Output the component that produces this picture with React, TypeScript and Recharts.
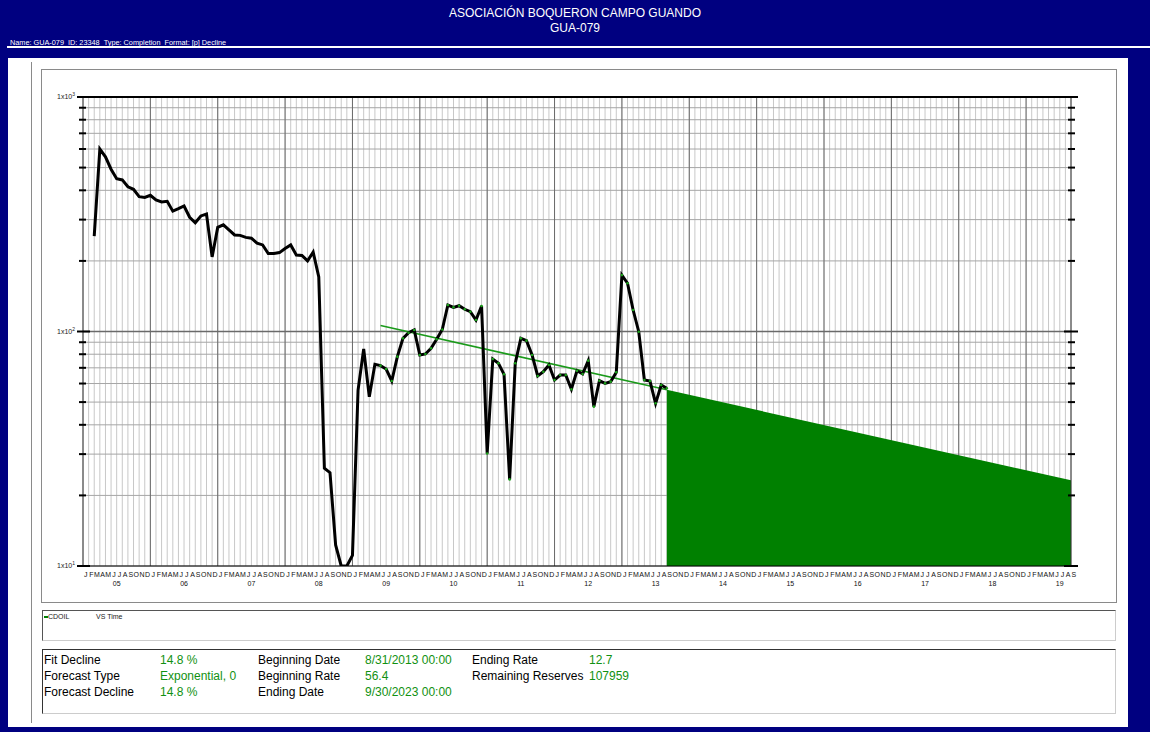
import React from "react";
import {
  ComposedChart,
  Line,
  Area,
  XAxis,
  YAxis,
  CartesianGrid,
} from "recharts";

// x values are month-end indices counted from Jan 1, 2005 (Aug 31 2013 = 104)
const MONTH_LETTERS = ["J", "F", "M", "A", "M", "J", "J", "A", "S", "O", "N", "D"];
const YEAR_LABELS = ["05", "06", "07", "08", "09", "10", "11", "12", "13", "14", "15", "16", "17", "18", "19"];
const X_END = 176;

const CDOIL_FIRST_MONTH = 2;
const CDOIL = [
  255, 600, 556, 492, 448, 443, 414, 404, 376, 373, 381, 364, 357, 359, 326, 334, 343, 307, 291, 311,
  317, 208, 278, 285, 271, 258, 257, 252, 250, 238, 234, 215, 215, 217, 226, 234, 212, 211, 200, 218,
  171, 26.1, 25.0, 12.3, 10, 10, 11.1, 56.3, 84.2, 52.7, 72.5, 71.5, 69.2, 61.5, 78.1, 93.5, 98.8, 101.5,
  79.4, 80.2, 84.8, 92.7, 102, 129.7, 126.8, 128.8, 124.4, 121.4, 111.9, 128.5, 30.2, 76.3, 73.2, 65.7,
  23.4, 73.2, 93.5, 91.4, 79.4, 64.6, 67.4, 72.0, 62.1, 65.2, 65.2, 56.7, 68.0, 65.9, 75.1, 47.8, 61.7,
  60.1, 61.1, 67.0, 174, 160.6, 123.5, 99.8, 62.1, 61.5, 49.4, 59.1, 57.3,
];
const FIT_FIRST_MONTH = 53;

const FIT_MONTHS = [53, 104];
const FIT_RATES = [106, 56.4];
const FORECAST_MONTHS = [104, 176];
const FORECAST_RATES = [56.4, 23.2];

const Y_TICKS = [10, 20, 30, 40, 50, 60, 70, 80, 90, 100, 200, 300, 400, 500, 600, 700, 800, 900, 1000];
const DECADES = [10, 100, 1000];
const SUPERSCRIPT: Record<number, string> = { 10: "1", 100: "2", 1000: "3" };

const STATS = [
  ["Fit Decline", "14.8 %", "Beginning Date", "8/31/2013 00:00", "Ending Rate", "12.7"],
  ["Forecast Type", "Exponential, 0", "Beginning Rate", "56.4", "Remaining Reserves", "107959"],
  ["Forecast Decline", "14.8 %", "Ending Date", "9/30/2023 00:00", "", ""],
];

const cdoilData = CDOIL.map((v, i) => ({ m: CDOIL_FIRST_MONTH + i, v }));
const fitData = FIT_MONTHS.map((m, i) => ({ m, v: FIT_RATES[i] }));
const forecastData = FORECAST_MONTHS.map((m, i) => ({ m, v: FORECAST_RATES[i] }));
const monthTicks = Array.from({ length: X_END + 1 }, (_, i) => i);
const yearLines = YEAR_LABELS.slice(1).map((_, i) => (i + 1) * 12);

const FONT = '"Liberation Sans", Arial, sans-serif';
const GREEN = "#008000";
const TEXT_GREEN = "#119111";

// chart box 1074 wide, plot 988 wide over 176 months
const CHART_W = 1074;
const CHART_H = 532;
const LEFT_W = 41;
const RIGHT_W = 45;
const HALF_MONTH = (CHART_W - LEFT_W - RIGHT_W) / X_END / 2;

function MonthTick({ x, y, payload }: any) {
  const m = payload.value;
  return (
    <g>
      <text x={x + HALF_MONTH} y={y + 11} textAnchor="middle" fontSize={7} fontFamily={FONT} fill="#111">
        {MONTH_LETTERS[m % 12]}
      </text>
      {m % 12 === 6 && (
        <text x={x} y={y + 19.5} textAnchor="middle" fontSize={7} fontFamily={FONT} fill="#111">
          {YEAR_LABELS[Math.floor(m / 12)]}
        </text>
      )}
    </g>
  );
}

function LeftTick({ x, y, payload }: any) {
  const decade = DECADES.includes(payload.value);
  return (
    <g>
      <line x1={x - (decade ? 6 : 4)} x2={x + (decade ? 7 : 3)} y1={y} y2={y} stroke="#000" strokeWidth={2} />
      {decade && (
        <text x={x - 8} y={y + 2} textAnchor="end" fontSize={7} fontFamily={FONT} fill="#222">
          1x10
          <tspan dy={-3} fontSize={5}>
            {SUPERSCRIPT[payload.value]}
          </tspan>
        </text>
      )}
    </g>
  );
}

function RightTick({ x, y, payload }: any) {
  const decade = DECADES.includes(payload.value);
  return <line x1={x - (decade ? 7 : 3)} x2={x + (decade ? 7 : 4)} y1={y} y2={y} stroke="#000" strokeWidth={2} />;
}

function FitDot({ cx, cy, payload }: any) {
  if (payload.m < FIT_FIRST_MONTH) return <g />;
  return <circle cx={cx} cy={cy} r={1.3} fill="#1aa01a" />;
}

function Chart() {
  return (
    <ComposedChart width={CHART_W} height={CHART_H} margin={{ top: 27, right: 0, bottom: 0, left: 0 }}>
      <XAxis xAxisId="m" type="number" dataKey="m" domain={[0, X_END]} ticks={monthTicks} allowDataOverflow
        height={36} interval={0} tick={<MonthTick />} tickLine={false} tickSize={0} tickMargin={0}
        axisLine={{ stroke: "#000" }} />
      <YAxis yAxisId="l" scale="log" domain={[10, 1000]} ticks={Y_TICKS} allowDataOverflow width={LEFT_W}
        tick={<LeftTick />} tickLine={false} tickSize={0} tickMargin={0} interval={0} axisLine={{ stroke: "#333" }} />
      <YAxis yAxisId="r" orientation="right" scale="log" domain={[10, 1000]} ticks={Y_TICKS} allowDataOverflow width={RIGHT_W}
        tick={<RightTick />} tickLine={false} tickSize={0} tickMargin={0} interval={0} axisLine={{ stroke: "#333" }} />
      <CartesianGrid xAxisId="m" yAxisId="l" horizontal={false} stroke="#c8c8c8" />
      <CartesianGrid xAxisId="m" yAxisId="l" vertical={false} stroke="#a6a6a6" />
      <CartesianGrid xAxisId="m" yAxisId="l" horizontal={false} verticalValues={yearLines} stroke="#6a6a6a" />
      <CartesianGrid xAxisId="m" yAxisId="l" vertical={false} horizontalValues={[100]} stroke="#6a6a6a" strokeWidth={1.5} />
      <CartesianGrid xAxisId="m" yAxisId="l" vertical={false} horizontalValues={[1000]} stroke="#000" strokeWidth={2} />
      <Area xAxisId="m" yAxisId="l" data={forecastData} dataKey="v" type="linear" baseValue={10}
        fill={GREEN} fillOpacity={1} stroke="none" isAnimationActive={false} />
      <Line xAxisId="m" yAxisId="l" data={fitData} dataKey="v" type="linear" stroke="#1a9a1a"
        strokeWidth={1.6} dot={false} isAnimationActive={false} />
      <Line xAxisId="m" yAxisId="l" data={cdoilData} dataKey="v" type="linear" stroke="#000"
        strokeWidth={3} dot={<FitDot />} activeDot={false} isAnimationActive={false} />
    </ComposedChart>
  );
}

export default function App() {
  return (
    <div style={{ position: "absolute", left: 0, top: 0, width: 1150, height: 732, background: "#000080", overflow: "hidden", fontFamily: FONT }}>
      <div style={{ position: "absolute", top: 6, left: 0, width: 1150, textAlign: "center", color: "#fff", fontSize: 12, lineHeight: "15px" }}>
        ASOCIACIÓN BOQUERON CAMPO GUANDO
        <br />
        GUA-079
      </div>
      <div style={{ position: "absolute", top: 38, left: 10, color: "#fff", fontSize: 7.3, whiteSpace: "nowrap" }}>
        Name: GUA-079 &nbsp;ID: 23348 &nbsp;Type: Completion &nbsp;Format: [p] Decline
      </div>
      <div style={{ position: "absolute", top: 46, left: 7, right: 0, height: 2, background: "#fff" }} />
      <div style={{ position: "absolute", top: 58, left: 8, width: 1120, height: 669, background: "#fff" }} />
      <div style={{ position: "absolute", top: 62, left: 31, width: 1, height: 661, background: "#8a8a8a" }} />
      <div style={{ position: "absolute", top: 70, left: 42, width: CHART_W, height: CHART_H, boxShadow: "0 0 0 1px #8a8a8a" }}>
        <Chart />
      </div>
      <div style={{ position: "absolute", top: 610, left: 42, width: 1074, height: 31, borderTop: "1px solid #555", borderLeft: "1px solid #555", borderBottom: "1px solid #ccc", borderRight: "1px solid #ccc", boxSizing: "border-box" }}>
        <div style={{ position: "absolute", left: 1, top: 5, width: 4, height: 2, background: GREEN }} />
        <span style={{ position: "absolute", left: 5, top: 2, fontSize: 7, color: "#222" }}>CDOIL</span>
        <span style={{ position: "absolute", left: 53, top: 2, fontSize: 7, color: "#222" }}>VS Time</span>
      </div>
      <div style={{ position: "absolute", top: 649, left: 42, width: 1074, height: 65, borderTop: "1px solid #333", borderLeft: "1px solid #333", borderBottom: "1px solid #ccc", borderRight: "1px solid #ccc", boxSizing: "border-box" }}>
        {STATS.map((row, r) =>
          row.map((t, c) => (
            <span key={r + "-" + c} style={{ position: "absolute", top: 3 + r * 16, left: [1, 117, 215, 322, 429, 546][c], fontSize: 12, color: c % 2 ? TEXT_GREEN : "#000", whiteSpace: "nowrap" }}>
              {t}
            </span>
          ))
        )}
      </div>
    </div>
  );
}
